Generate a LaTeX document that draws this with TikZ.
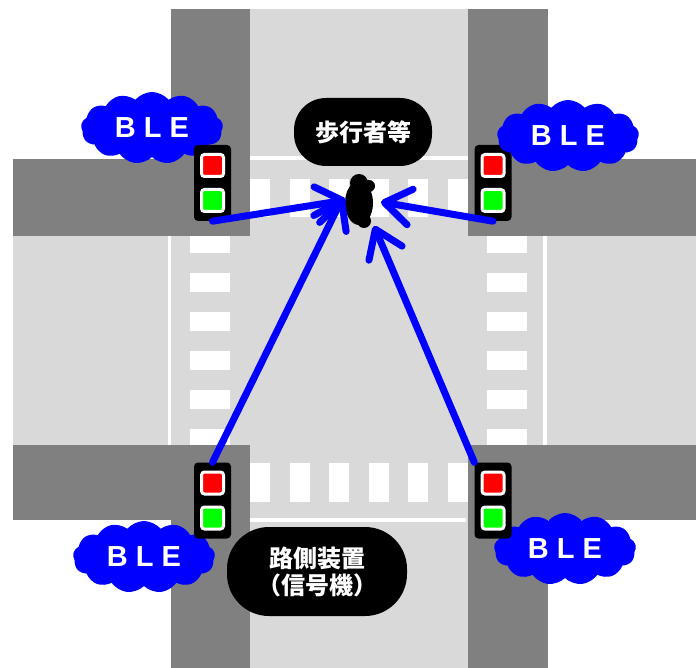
\documentclass[tikz,border=0pt]{standalone}
\usepackage{fontspec}
\newfontfamily\jpfont{Noto Sans CJK JP}
\newfontfamily\blefont{Liberation Sans}
\usetikzlibrary{shapes.symbols,shapes.geometric,arrows.meta}
\definecolor{roadgray}{HTML}{D9D9D9}
\definecolor{walkgray}{HTML}{808080}
\definecolor{lampgreen}{HTML}{00FF00}
\begin{document}
\begin{tikzpicture}[x=1pt,y=-1pt,
        road/.style={fill=roadgray},
        walk/.style={fill=walkgray},
        zebra/.style={fill=white},
        stopline/.style={draw=white,line width=3.5pt},
        signal/.style={fill=black,rounded corners=4pt,minimum width=37pt,minimum height=76pt,inner sep=0pt},
        lamp/.style={draw=white,line width=3pt,rounded corners=3pt,minimum size=22pt,inner sep=0pt},
        ble/.style={cloud,cloud puffs=13,cloud puff arc=100,aspect=2,fill=blue,text=white,
            minimum width=142pt,minimum height=72pt,inner sep=0pt,
            font=\blefont\bfseries\fontsize{29}{29}\selectfont},
        tag/.style={fill=black,text=white,align=center,inner sep=0pt,
            font=\jpfont\bfseries\fontsize{24}{27}\selectfont},
        walker/.style={ellipse,fill=black,minimum width=28pt,minimum height=44pt,inner sep=0pt},
        wave/.style={draw=blue,line width=7pt,line cap=round,-{Straight Barb[length=26pt,width=36pt,round]}}]
                \useasboundingbox (0,0) rectangle (696,668);
                % roads
                \fill[road] (171,9) rectangle (548,668);
                \fill[road] (13,159) rectangle (696,520);
                % crossings
                \foreach \i in {0,...,5} {
                    \fill[zebra] (250+39.6*\i,179) rectangle (270+39.6*\i,217);
                    \fill[zebra] (250+39.6*\i,463) rectangle (270+39.6*\i,502);
                    \fill[zebra] (190,234+39*\i) rectangle (230,253+39*\i);
                    \fill[zebra] (487,234+39*\i) rectangle (527,253+39*\i);
                }
                \draw[stopline] (250,158) -- (468,158);
                \draw[stopline] (250,520) -- (466,520);
                \draw[stopline] (169.5,236) -- (169.5,445);
                \draw[stopline] (545,236) -- (545,445);
                % sidewalks
                \fill[walk] (171,9) rectangle (250,236);
                \fill[walk] (13,159) rectangle (250,236);
                \fill[walk] (468,9) rectangle (548,236);
                \fill[walk] (468,159) rectangle (696,236);
                \fill[walk] (13,445) rectangle (250,520);
                \fill[walk] (171,445) rectangle (250,668);
                \fill[walk] (468,445) rectangle (696,520);
                \fill[walk] (468,445) rectangle (548,668);
                % labels
                \node[tag,rounded corners=32pt,minimum width=138pt,minimum height=68pt] (walkerlabel) at (363,132) {歩行者等};
                \node[tag,rounded corners=42pt,minimum width=180pt,minimum height=89pt] (roadside) at (317,571.5) {路側装置\\（信号機）};
                \node[ble] (bletl) at (152,128) {B L E};
                \node[ble] (blebl) at (144,557) {B L E};
                \node[ble] (blebr) at (565,549) {B L E};
                % signals
                \foreach \n/\x/\y in {tl/212.5/183, tr/493/183, bl/212.5/500.5, br/493/500.5} {
                    \node[signal] (\n) at (\x,\y) {};
                    \node[lamp,fill=red] (\n red) at (\x,\y-17.5) {};
                    \node[lamp,fill=lampgreen] (\n green) at (\x,\y+17.5) {};
                }
                \node[ble] (bletr) at (568,136) {B L E};
                % pedestrian
                \node[walker] (ped) at (359,203) {};
                \fill (359,183) circle (9);
                \fill (369,186) circle (6);
                \fill (364,221) circle (7);
                % radio links
                \draw[wave] (tl.south) -- ([shift={(-13,-3)}]ped.center);
                \draw[wave] (tr.south) -- ([shift={(22,-1)}]ped.center);
                \draw[wave] (bl.north) -- ([shift={(-16,-6)}]ped.center);
                \draw[wave] (br.north west) -- ([shift={(15,23)}]ped.center);
\end{tikzpicture}
\end{document}
